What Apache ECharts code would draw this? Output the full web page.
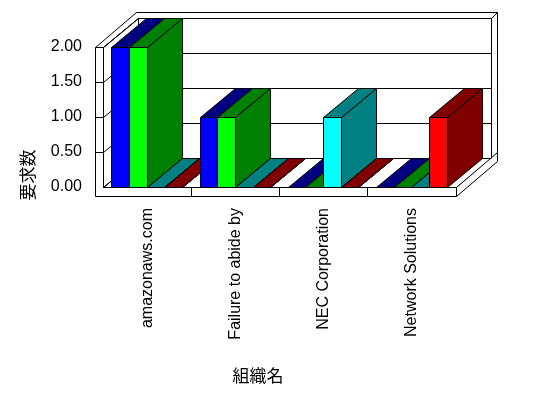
<!DOCTYPE html>
<html>
<head>
<meta charset="utf-8">
<script src="https://cdn.jsdelivr.net/npm/echarts@6/dist/echarts.min.js"></script>
<style>
  html, body { margin: 0; padding: 0; background: #fff; }
  #chart { width: 548px; height: 398px; }
</style>
</head>
<body>
<div id="chart"></div>
<script>
var categories = ['amazonaws.com', 'Failure to abide by', 'NEC Corporation', 'Network Solutions'];
var seriesBlue = [2, 1, 0, 0];
var seriesGreen = [2, 1, 0, 0];
var seriesCyan = [0, 0, 1, 0];
var seriesRed = [0, 0, 0, 1];
var yTicks = [0, 0.5, 1, 1.5, 2];
var xName = '組織名';
var yName = '要求数';

var faceColors = ['#0000ff', '#00ff00', '#00ffff', '#ff0000'];
var darkColors = ['#000080', '#008000', '#008080', '#800000'];
var DX = 35, DY = -29;  // depth of the floor
var TX = 6, TY = -6;    // back wall thickness
var WX = 8;             // left wall thickness
var SLAB = 9;           // floor slab height
var FONT = '"Liberation Sans", Arial, sans-serif';

var chart = echarts.init(document.getElementById('chart'));

function snap(v) {
    return Math.round(v - 0.5) + 0.5;
}

function poly(points, fill, z2) {
    return {
        type: 'polygon',
        z2: z2,
        shape: { points: points },
        style: { fill: fill, stroke: '#000', lineWidth: 1 }
    };
}

function seg(x1, y1, x2, y2, z2) {
    return {
        type: 'line',
        z2: z2,
        shape: { x1: x1, y1: y1, x2: x2, y2: y2 },
        style: { stroke: '#000', lineWidth: 1 }
    };
}

// walls, floor and grid lines, one data item per y tick
function renderWalls(params, api) {
    var t = api.value(1);
    var c0 = api.coord([0, 0]);
    var band = api.size([1, 0])[0];
    var L = snap(c0[0] - band / 2);
    var R = snap(c0[0] - band / 2 + band * categories.length);
    var yb = snap(c0[1]);
    var yt = snap(api.coord([0, yTicks[yTicks.length - 1]])[1]);
    var y = snap(api.coord([0, t])[1]);
    var kids = [];
    if (params.dataIndex === 0) {
        // back wall
        kids.push(poly([[L + DX, yt + DY], [R + DX, yt + DY], [R + DX, yb + DY], [L + DX, yb + DY]], '#fff', 0));
        // top edge of both walls
        kids.push(poly([[L - WX, yt], [L, yt], [L + DX, yt + DY], [R + DX, yt + DY],
            [R + DX + TX, yt + DY + TY], [L - WX + DX + TX, yt + DY + TY]], '#fff', 0));
        // right edge of back wall
        kids.push(poly([[R + DX, yt + DY], [R + DX + TX, yt + DY + TY], [R + DX + TX, yb + DY + TY], [R + DX, yb + DY]], '#fff', 0));
        // left wall inner face
        kids.push(poly([[L, yt], [L + DX, yt + DY], [L + DX, yb + DY], [L, yb]], '#fff', 0));
        // floor
        kids.push(poly([[L, yb], [R, yb], [R + DX, yb + DY], [L + DX, yb + DY]], '#fff', 0));
        // slab right side
        kids.push(poly([[R, yb], [R + DX + TX, yb + DY + TY], [R + DX + TX, yb + DY + TY + SLAB], [R, yb + SLAB]], '#fff', 0));
        // left wall front + slab front
        kids.push(poly([[L - WX, yt], [L, yt], [L, yb], [R, yb], [R, yb + SLAB], [L - WX, yb + SLAB]], '#fff', 0));
        for (var i = 1; i < categories.length; i++) {
            var xd = snap(c0[0] - band / 2 + band * i);
            kids.push(seg(xd, yb, xd, yb + SLAB, 1));
        }
    }
    if (t > 0) {
        kids.push(seg(L - WX, y, L, y, 1));
    }
    kids.push(seg(L, y, L + DX, y + DY, 1));
    kids.push(seg(L + DX, y + DY, R + DX, y + DY, 1));
    return { type: 'group', children: kids };
}

function barRenderer(s) {
    return function (params, api) {
        var ci = api.value(0);
        var base = api.coord([ci, 0]);
        var top = api.coord([ci, api.value(1)]);
        var band = api.size([1, 0])[0];
        var w = band * 0.2;
        var x0 = snap(base[0] - band / 2 + band * 0.1 + s * w);
        var x1 = snap(base[0] - band / 2 + band * 0.1 + (s + 1) * w);
        var y0 = snap(base[1]);
        var y1 = snap(top[1]);
        var z2 = ci * 10 + s;
        var kids = [
            poly([[x1, y1], [x1 + DX, y1 + DY], [x1 + DX, y0 + DY], [x1, y0]], darkColors[s], z2),
            poly([[x0, y1], [x1, y1], [x1 + DX, y1 + DY], [x0 + DX, y1 + DY]], darkColors[s], z2)
        ];
        if (y0 > y1) {
            kids.push(poly([[x0, y1], [x1, y1], [x1, y0], [x0, y0]], faceColors[s], z2));
        }
        return { type: 'group', children: kids };
    };
}

function barSeries(name, values, s) {
    return {
        name: name,
        type: 'custom',
        z: 3,
        renderItem: barRenderer(s),
        data: values.map(function (v, i) { return [i, v]; })
    };
}

var option = {
    backgroundColor: '#fff',
    animation: false,
    grid: { left: 103, right: 92, top: 47, bottom: 211 },
    xAxis: {
        type: 'category',
        data: categories,
        axisLine: { show: false },
        axisTick: { show: false },
        splitLine: { show: false },
        axisLabel: {
            interval: 0,
            rotate: 90,
            margin: 21,
            color: '#000',
            fontSize: 16,
            fontFamily: FONT
        }
    },
    yAxis: {
        type: 'value',
        min: 0,
        max: 2,
        interval: 0.5,
        axisLine: { show: false },
        axisTick: { show: false },
        splitLine: { show: false },
        axisLabel: {
            margin: 21,
            color: '#000',
            fontSize: 16,
            fontFamily: FONT,
            formatter: function (v) { return v.toFixed(2); }
        }
    },
    graphic: [
        {
            type: 'text',
            x: 258,
            y: 376,
            style: {
                text: xName,
                fill: '#000',
                font: '17px "Noto Sans CJK JP"',
                textAlign: 'center',
                textVerticalAlign: 'middle'
            }
        },
        {
            type: 'text',
            x: 28,
            y: 175,
            rotation: Math.PI / 2,
            style: {
                text: yName,
                fill: '#000',
                font: '17px "Noto Sans CJK JP"',
                textAlign: 'center',
                textVerticalAlign: 'middle'
            }
        }
    ],
    series: [
        {
            type: 'custom',
            z: 2,
            silent: true,
            renderItem: renderWalls,
            data: yTicks.map(function (t) { return [0, t]; })
        },
        barSeries('Blue', seriesBlue, 0),
        barSeries('Green', seriesGreen, 1),
        barSeries('Cyan', seriesCyan, 2),
        barSeries('Red', seriesRed, 3)
    ]
};
chart.setOption(option);
</script>
</body>
</html>
